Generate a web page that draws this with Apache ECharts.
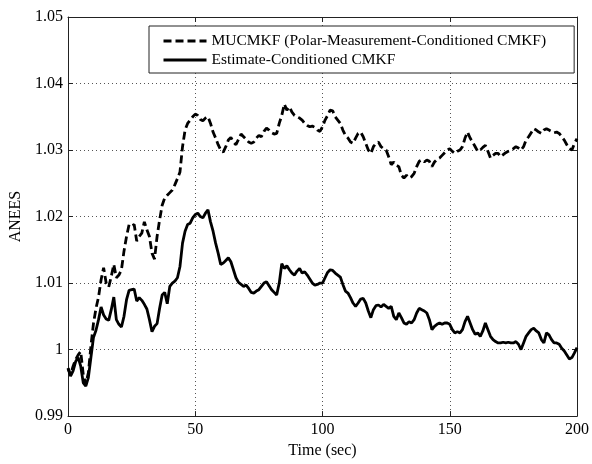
<!DOCTYPE html>
<html>
<head>
<meta charset="utf-8">
<script src="https://cdn.jsdelivr.net/npm/echarts@6/dist/echarts.min.js"></script>
<style>
  html, body { margin: 0; padding: 0; background: #fff; }
  #chart { width: 592px; height: 464px; }
</style>
</head>
<body>
<div id="chart"></div>
<script>
// time in seconds, one sample per second
const timeSec = Array.from({ length: 201 }, (_, i) => i);

const legendNames = ['MUCMKF (Polar-Measurement-Conditioned CMKF)', 'Estimate-Conditioned CMKF'];

const mucmkf = [
    0.9972, 0.9962, 0.9975, 0.9985, 0.9992, 0.9997, 0.9962, 0.9948, 0.9965, 1.0005,
    1.0039, 1.0062, 1.0079, 1.0105, 1.0123, 1.0100, 1.0094, 1.0110, 1.0128, 1.0108,
    1.0112, 1.0120, 1.0148, 1.0170, 1.0188, 1.0186, 1.0188, 1.0163, 1.0170, 1.0175,
    1.0192, 1.0180, 1.0170, 1.0145, 1.0136, 1.0170, 1.0195, 1.0217, 1.0228, 1.0232,
    1.0236, 1.0240, 1.0248, 1.0257, 1.0267, 1.0305, 1.0330, 1.0340, 1.0345, 1.0350,
    1.0354, 1.0352, 1.0346, 1.0344, 1.0348, 1.0350, 1.0340, 1.0327, 1.0318, 1.0308,
    1.0300, 1.0297, 1.0305, 1.0315, 1.0319, 1.0312, 1.0308, 1.0316, 1.0324, 1.0320,
    1.0316, 1.0312, 1.0310, 1.0312, 1.0318, 1.0322, 1.0320, 1.0328, 1.0333, 1.0330,
    1.0326, 1.0324, 1.0325, 1.0340, 1.0352, 1.0369, 1.0360, 1.0365, 1.0357, 1.0352,
    1.0350, 1.0348, 1.0345, 1.0340, 1.0337, 1.0335, 1.0336, 1.0334, 1.0330, 1.0328,
    1.0335, 1.0345, 1.0352, 1.0360, 1.0359, 1.0350, 1.0345, 1.0340, 1.0330, 1.0322,
    1.0318, 1.0312, 1.0310, 1.0318, 1.0325, 1.0327, 1.0320, 1.0310, 1.0300, 1.0295,
    1.0305, 1.0310, 1.0312, 1.0305, 1.0302, 1.0300, 1.0290, 1.0278, 1.0282, 1.0277,
    1.0275, 1.0262, 1.0258, 1.0262, 1.0258, 1.0260, 1.0265, 1.0275, 1.0283, 1.0285,
    1.0282, 1.0285, 1.0283, 1.0275, 1.0282, 1.0286, 1.0288, 1.0292, 1.0296, 1.0300,
    1.0302, 1.0298, 1.0295, 1.0298, 1.0300, 1.0305, 1.0318, 1.0327, 1.0318, 1.0312,
    1.0305, 1.0298, 1.0300, 1.0304, 1.0307, 1.0298, 1.0288, 1.0292, 1.0295, 1.0295,
    1.0290, 1.0293, 1.0296, 1.0298, 1.0300, 1.0302, 1.0305, 1.0303, 1.0300, 1.0305,
    1.0315, 1.0320, 1.0326, 1.0332, 1.0330, 1.0327, 1.0325, 1.0330, 1.0332, 1.0330,
    1.0328, 1.0326, 1.0327, 1.0325, 1.0320, 1.0315, 1.0308, 1.0302, 1.0300, 1.0310,
    1.0317
];

const estimateCmkf = [
    0.9972, 0.9960, 0.9968, 0.9982, 0.9988, 0.9975, 0.9950, 0.9945, 0.9958, 0.9988,
    1.0018, 1.0029, 1.0045, 1.0064, 1.0052, 1.0046, 1.0044, 1.0060, 1.0079, 1.0045,
    1.0038, 1.0034, 1.0050, 1.0075, 1.0089, 1.0090, 1.0091, 1.0073, 1.0078, 1.0074,
    1.0068, 1.0061, 1.0045, 1.0027, 1.0035, 1.0039, 1.0062, 1.0082, 1.0086, 1.0069,
    1.0095, 1.0100, 1.0103, 1.0108, 1.0125, 1.0160, 1.0178, 1.0188, 1.0190, 1.0198,
    1.0203, 1.0205, 1.0200, 1.0198, 1.0205, 1.0210, 1.0192, 1.0178, 1.0160, 1.0145,
    1.0128, 1.0130, 1.0134, 1.0138, 1.0132, 1.0120, 1.0108, 1.0101, 1.0098, 1.0095,
    1.0097, 1.0092, 1.0086, 1.0085, 1.0088, 1.0090, 1.0095, 1.0100, 1.0102, 1.0096,
    1.0090, 1.0086, 1.0082, 1.0100, 1.0129, 1.0122, 1.0126, 1.0120, 1.0115, 1.0112,
    1.0118, 1.0122, 1.0115, 1.0117, 1.0112, 1.0106, 1.0100, 1.0097, 1.0098, 1.0100,
    1.0100, 1.0108, 1.0116, 1.0120, 1.0119, 1.0115, 1.0112, 1.0109, 1.0098, 1.0088,
    1.0085, 1.0078, 1.0070, 1.0065, 1.0070, 1.0076, 1.0077, 1.0070, 1.0058, 1.0048,
    1.0060, 1.0066, 1.0067, 1.0064, 1.0068, 1.0065, 1.0062, 1.0065, 1.0050, 1.0045,
    1.0055, 1.0048, 1.0040, 1.0038, 1.0042, 1.0040, 1.0045, 1.0055, 1.0062, 1.0060,
    1.0058, 1.0055, 1.0045, 1.0030, 1.0035, 1.0038, 1.0040, 1.0038, 1.0040, 1.0040,
    1.0038, 1.0030, 1.0025, 1.0027, 1.0025, 1.0030, 1.0042, 1.0050, 1.0040, 1.0030,
    1.0023, 1.0025, 1.0020, 1.0028, 1.0040, 1.0030, 1.0020, 1.0015, 1.0012, 1.0010,
    1.0010, 1.0011, 1.0010, 1.0011, 1.0010, 1.0010, 1.0012, 1.0008, 1.0000, 1.0010,
    1.0020, 1.0025, 1.0030, 1.0032, 1.0028, 1.0025, 1.0015, 1.0010, 1.0025, 1.0022,
    1.0015, 1.0010, 1.0010, 1.0008, 1.0002, 0.9998, 0.9992, 0.9986, 0.9988, 0.9995,
    1.0003
];

const FONT = '"Liberation Serif", "Times New Roman", serif';
const pairs = (vals) => vals.map((v, i) => [timeSec[i], v]);

const chart = echarts.init(document.getElementById('chart'));

const axisLine = { show: true, onZero: false, lineStyle: { color: '#222', width: 1 } };
const tickIn = { show: true, inside: true, length: 5, lineStyle: { color: '#222', width: 1 } };
const dotted = { show: true, lineStyle: { color: '#555', width: 1, type: [1, 3] } };

chart.setOption({
    backgroundColor: '#fff',
    animation: false,
    textStyle: { fontFamily: FONT, color: '#000' },
    grid: { left: 67, right: 13, top: 17, bottom: 43, show: false },
    legend: {
        orient: 'vertical',
        left: 149, top: 26,
        padding: [7, 28, 5, 13],
        itemGap: 3,
        itemWidth: 43, itemHeight: 14,
        borderColor: '#222', borderWidth: 1,
        backgroundColor: '#fff',
        itemStyle: { color: 'transparent', borderWidth: 0 },
        lineStyle: { width: 3 },
        textStyle: { fontFamily: FONT, fontSize: 15.5, color: '#000' },
        data: legendNames
    },
    xAxis: [
        {
            type: 'value', min: 0, max: 200, interval: 50,
            position: 'bottom',
            name: 'Time (sec)', nameLocation: 'middle', nameGap: 26,
            nameTextStyle: { fontFamily: FONT, fontSize: 16, color: '#000' },
            axisLine, axisTick: tickIn,
            axisLabel: { fontFamily: FONT, fontSize: 16, color: '#000', margin: 6 },
            splitLine: dotted
        },
        {
            type: 'value', min: 0, max: 200, interval: 50,
            position: 'top',
            axisLine, axisTick: tickIn,
            axisLabel: { show: false }, splitLine: { show: false }
        }
    ],
    yAxis: [
        {
            type: 'value', min: 0.99, max: 1.05, interval: 0.01,
            position: 'left',
            name: 'ANEES', nameLocation: 'middle', nameGap: 44, nameRotate: 90,
            nameTextStyle: { fontFamily: FONT, fontSize: 16, color: '#000' },
            axisLine, axisTick: tickIn,
            axisLabel: {
                fontFamily: FONT, fontSize: 16, color: '#000', margin: 5,
                formatter: (v) => String(parseFloat(v.toFixed(2)))
            },
            splitLine: dotted
        },
        {
            type: 'value', min: 0.99, max: 1.05, interval: 0.01,
            position: 'right',
            axisLine, axisTick: tickIn,
            axisLabel: { show: false }, splitLine: { show: false }
        }
    ],
    series: [
        {
            name: legendNames[0], type: 'line', showSymbol: false, symbol: 'none',
            data: pairs(mucmkf),
            lineStyle: { color: '#000', width: 2.8, type: [8, 4] },
            itemStyle: { color: '#000' }
        },
        {
            name: legendNames[1], type: 'line', showSymbol: false, symbol: 'none',
            data: pairs(estimateCmkf),
            lineStyle: { color: '#000', width: 2.8 },
            itemStyle: { color: '#000' }
        }
    ]
});
</script>
</body>
</html>
